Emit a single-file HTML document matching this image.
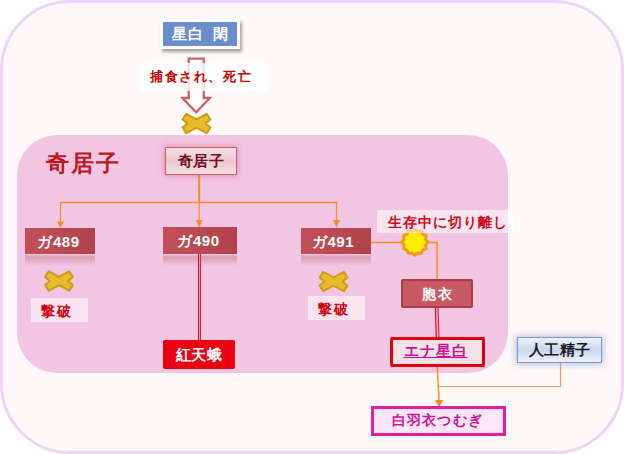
<!DOCTYPE html>
<html><head><meta charset="utf-8">
<style>
html,body{margin:0;padding:0;background:#fff;width:624px;height:454px;overflow:hidden;position:relative;font-family:"Liberation Sans",sans-serif;}
.a{position:absolute;box-sizing:border-box;}
.t{display:flex;align-items:center;justify-content:center;white-space:nowrap;}
#outer{left:0;top:0;width:624px;height:454px;border:3px solid #efd3f7;background:#fff8f8;border-radius:70px;box-shadow:inset 0 0 1px 1.5px #fffafe;}
#inner{left:17px;top:135px;width:491px;height:238px;background:#f2c5e3;border-radius:40px;}
svg{position:absolute;left:0;top:0;}
</style></head><body>
<div class="a" id="outer"></div>
<div class="a" id="inner"></div>
<div class="a" style="left:25px;top:255px;width:70px;height:11px;background:linear-gradient(rgba(176,66,76,.12),rgba(176,66,76,.3) 20%,rgba(176,66,76,0));"></div>
<div class="a" style="left:163px;top:255px;width:74px;height:11px;background:linear-gradient(rgba(176,66,76,.12),rgba(176,66,76,.3) 20%,rgba(176,66,76,0));"></div>
<div class="a" style="left:301px;top:255px;width:70px;height:11px;background:linear-gradient(rgba(176,66,76,.12),rgba(176,66,76,.3) 20%,rgba(176,66,76,0));"></div>

<!-- 星白 閑 -->
<div class="a t" style="left:160px;top:19px;width:80px;height:30px;background:#6b8dce;border:3px solid #fff;box-shadow:2px 3px 3px rgba(0,0,0,.35);color:#fff;font-size:15px;font-weight:bold;letter-spacing:1px;word-spacing:3px;padding-left:1px;">星白 閑</div>

<svg width="624" height="454">
  <!-- block arrow -->
  <path d="M188.7,58.6 H203.7 V98 H209.8 L196.2,112.3 L182.4,98 H188.7 Z" fill="#fff" stroke="#c9636d" stroke-width="2.3" stroke-linejoin="miter"/>
</svg>

<!-- label 捕食され、死亡 -->
<div class="a t" style="left:140px;top:63px;width:128px;height:28px;background:rgba(255,255,255,.78);color:#cc0000;font-size:13px;font-weight:bold;letter-spacing:1.6px;justify-content:flex-start;padding-left:10px;padding-bottom:1px;">捕食され、死亡</div>

<svg width="624" height="454">
  <defs>
    <g id="xm">
      <path d="M-14,-4 L-10.2,-9.6 L0,-4.2 L10.2,-9.6 L14,-4 L9,0 L14,4 L10.2,9.6 L0,4.2 L-10.2,9.6 L-14,4 L-9,0 Z" fill="#ebba28" stroke="#c99e16" stroke-width="2" stroke-linejoin="round"/>
    </g>
  </defs>
  <use href="#xm" x="196.5" y="123.5"/>
  <use href="#xm" x="59" y="281"/>
  <use href="#xm" x="333.5" y="281.5"/>
  <!-- orange lines -->
  <g stroke="#f39021" fill="none">
    <path d="M199.2,175 V202.5" stroke-width="2"/>
    <path d="M60.5,202.6 H337" stroke-width="1.5"/>
    <path d="M60.5,202 V222 M199.2,202 V221 M336.5,202 V222" stroke-width="1.2"/>
    <path d="M371,242.5 H437 V279" stroke-width="1.5"/>
  </g>
  <g fill="#f39021">
    <path d="M57,221.5 H64 L60.5,228.3 Z"/>
    <path d="M195.7,220 H202.7 L199.2,227.5 Z"/>
    <path d="M333,220 H340 L336.5,227.5 Z"/>
  </g>
  <!-- double red lines -->
  <g fill="none">
    <path d="M199.5,254 V340" stroke="#f0b0c4" stroke-width="1"/>
    <path d="M198.5,254 V340" stroke="#c8102a" stroke-width="1.1"/>
    <path d="M200.5,254 V340" stroke="#ea1a2a" stroke-width="1.1"/>
    <path d="M436.5,307 L437.5,337" stroke="#f0b0c4" stroke-width="1.2"/>
    <path d="M435.3,307 L436.3,337" stroke="#c8102a" stroke-width="1.2"/>
    <path d="M437.9,307 L438.9,337" stroke="#ea1a2a" stroke-width="1.2"/>
  </g>
  <!-- sun -->
  <path id="sun" d="M414.80,229.20L417.70,231.38L421.30,230.94L422.72,234.28L426.06,235.70L425.62,239.30L427.80,242.20L425.62,245.10L426.06,248.70L422.72,250.12L421.30,253.46L417.70,253.02L414.80,255.20L411.90,253.02L408.30,253.46L406.88,250.12L403.54,248.70L403.98,245.10L401.80,242.20L403.98,239.30L403.54,235.70L406.88,234.28L408.30,230.94L411.90,231.38Z" fill="#ffee00" stroke="#f5961e" stroke-width="3" stroke-linejoin="round"/>
  <!-- bottom orange lines -->
  <g stroke="#f3a040" stroke-width="1.2" fill="none">
    <path d="M560.5,363 V386.5 H439"/>
  </g>
  <g stroke="#f39021" stroke-width="1.5" fill="none">
    <path d="M437.3,366 L439,401"/>
  </g>
  <path d="M435,400 H443.2 L439.1,407.5 Z" fill="#f39021"/>
</svg>

<!-- title 奇居子 -->
<div class="a" style="left:46px;top:148px;color:#c0161e;font-size:23px;font-weight:bold;line-height:30px;letter-spacing:2px;white-space:nowrap;">奇居子</div>

<!-- 奇居子 box -->
<div class="a t" style="left:165px;top:147px;width:72px;height:28px;background:linear-gradient(#f6dfe3,#ecc6cc 50%,#f6dfe3);border:1px solid #c9606c;box-shadow:0 0 6px rgba(200,80,100,.6);color:#6a1020;font-size:15px;font-weight:bold;letter-spacing:0.5px;">奇居子</div>

<!-- ガ boxes -->
<div class="a t" style="left:25px;top:228px;width:70px;height:26px;background:linear-gradient(90deg,#c25058,#b0424c);color:#fff;font-size:15px;font-weight:bold;letter-spacing:0.6px;padding-top:2px;padding-right:3px;">ガ489</div>
<div class="a t" style="left:163px;top:227px;width:74px;height:27px;background:linear-gradient(90deg,#c25058,#b0424c);color:#fff;font-size:15px;font-weight:bold;letter-spacing:0.6px;padding-top:2px;padding-right:3px;">ガ490</div>
<div class="a t" style="left:301px;top:228px;width:70px;height:26px;background:linear-gradient(90deg,#c25058,#b0424c);color:#fff;font-size:15px;font-weight:bold;letter-spacing:0.6px;padding-top:2px;padding-right:6px;">ガ491</div>

<!-- 撃破 labels -->
<div class="a t" style="left:31px;top:298px;width:57px;height:24px;background:rgba(255,255,255,.55);color:#d00010;font-size:14px;font-weight:bold;letter-spacing:1.5px;justify-content:flex-start;padding-left:10px;padding-top:4px;">撃破</div>
<div class="a t" style="left:308px;top:296px;width:57px;height:24px;background:rgba(255,255,255,.55);color:#d00010;font-size:14px;font-weight:bold;letter-spacing:1.5px;justify-content:flex-start;padding-left:10px;padding-top:4px;">撃破</div>

<!-- 紅天蛾 -->
<div class="a t" style="left:163px;top:340px;width:72px;height:29px;background:#ea0010;border-radius:2px;color:#fff;font-size:15px;font-weight:bold;letter-spacing:0.5px;padding-top:1px;">紅天蛾</div>

<!-- 生存中に切り離し -->
<div class="a t" style="left:377px;top:210px;width:136px;height:23px;background:rgba(255,255,255,.55);color:#d00818;font-size:14px;font-weight:bold;letter-spacing:1px;padding-top:3px;padding-left:5px;">生存中に切り離し</div>

<!-- 胞衣 -->
<div class="a t" style="left:401px;top:279px;width:72px;height:28.5px;background:#c85862;border:2.5px solid #ad3c4a;border-radius:2px;color:#fff;font-size:14px;font-weight:bold;letter-spacing:1.5px;padding-top:3px;padding-left:1px;">胞衣</div>

<!-- エナ星白 -->
<div class="a t" style="left:390px;top:337px;width:95px;height:30px;background:#f6e0e8;border:3px solid #e0000e;border-radius:2px;color:#cc1199;font-size:15px;font-weight:bold;letter-spacing:1px;text-decoration:underline;padding-bottom:1px;padding-right:4px;">エナ星白</div>

<!-- 人工精子 -->
<div class="a t" style="left:517px;top:337px;width:85px;height:26px;background:linear-gradient(#eef2fa,#cdd7ee 50%,#eef2fa);border:1px solid #7a98d4;box-shadow:0 0 7px 1px rgba(110,140,210,.55);color:#1a1a2a;font-size:15px;font-weight:bold;letter-spacing:0.5px;padding-top:1px;">人工精子</div>

<!-- 白羽衣つむぎ -->
<div class="a t" style="left:371px;top:406px;width:135px;height:30px;background:#fde6f7;border:3px solid #e020a0;color:#c8189a;font-size:14px;font-weight:bold;letter-spacing:1.2px;padding-right:2px;">白羽衣つむぎ</div>


</body></html>
